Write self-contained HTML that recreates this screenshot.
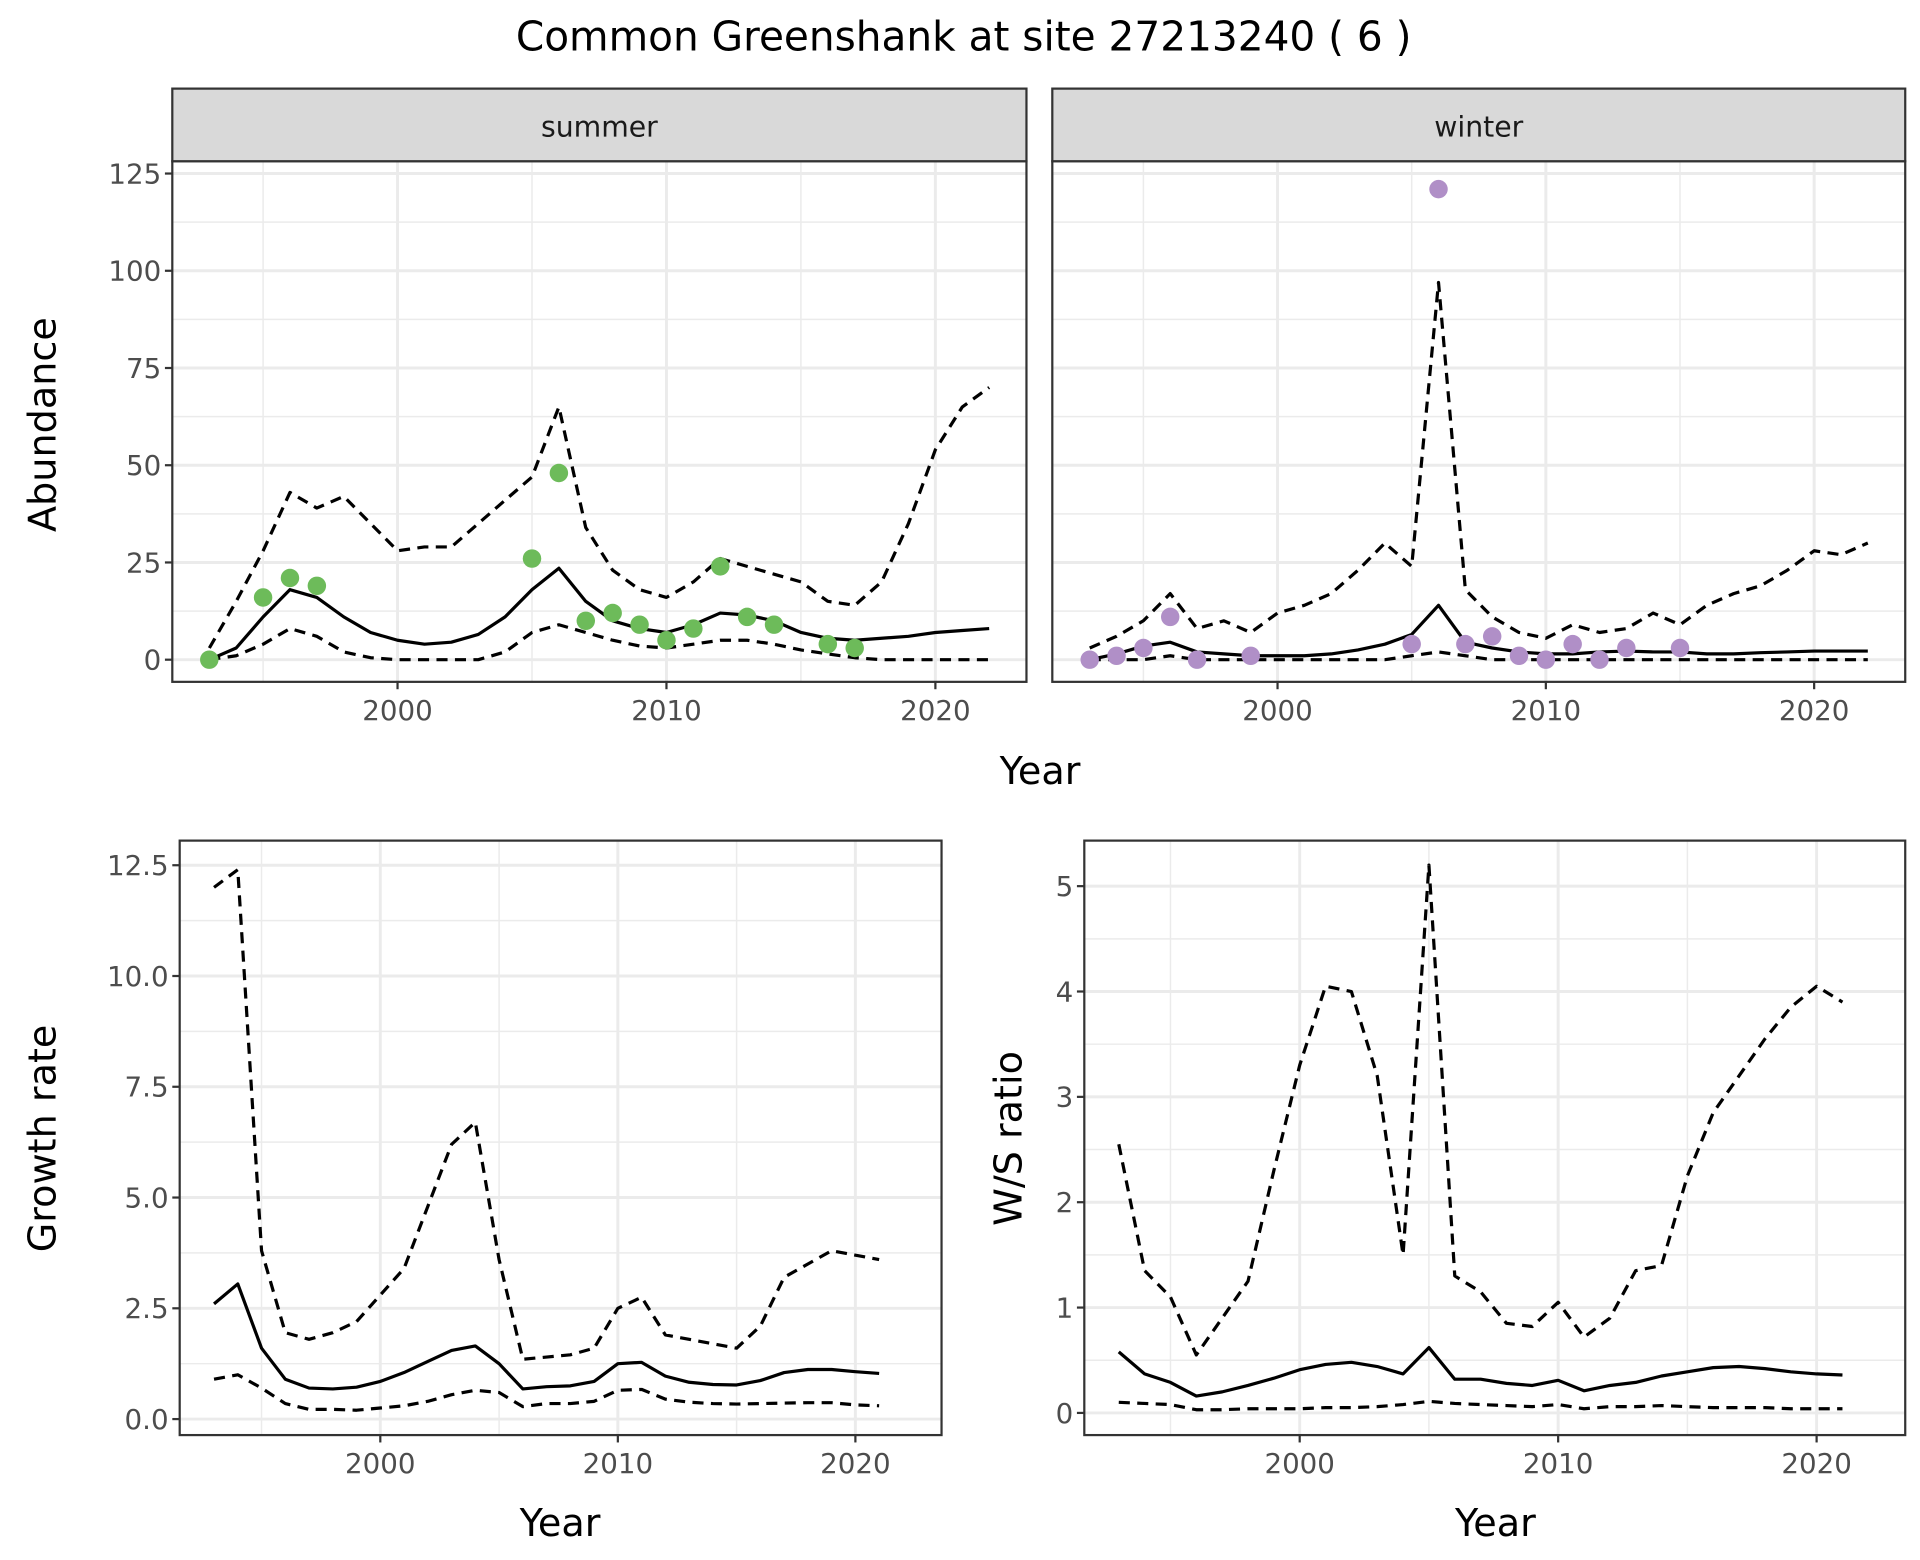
<!DOCTYPE html>
<html><head><meta charset="utf-8"><style>
html,body{margin:0;padding:0;background:#fff;}
svg{display:block;font-family:"DejaVu Sans","Liberation Sans",sans-serif;}
</style></head><body>
<svg id="chart" width="1920" height="1560" viewBox="0 0 1560 1267.5" xmlns="http://www.w3.org/2000/svg">
<text x="783" y="41" font-size="33" text-anchor="middle" fill="#000">Common Greenshank at site 27213240 ( 6 )</text>
</svg>
<script>
const yearsAb = [1993,1994,1995,1996,1997,1998,1999,2000,2001,2002,2003,2004,2005,2006,2007,2008,2009,2010,2011,2012,2013,2014,2015,2016,2017,2018,2019,2020,2021,2022];
const sumMean = [0,3,11,18,16,11,7,5,4,4.5,6.5,11,18,23.5,15,10,8,7,9,12,11.5,10,7,5.5,5,5.5,6,7,7.5,8];
const sumUpper = [3,15,28,43,39,42,35,28,29,29,35,41,47,65,34,23,18,16,20,26,24,22,20,15,14,20,35,54,65,70];
const sumLower = [0,1,4,8,6,2,0.5,0,0,0,0,2,7,9,7,5,3.5,3,4,5,5,4,2.5,1.5,0.5,0,0,0,0,0];
const sumPtYears = [1993,1995,1996,1997,2005,2006,2007,2008,2009,2010,2011,2012,2013,2014,2016,2017];
const sumPtVals = [0,16,21,19,26,48,10,12,9,5,8,24,11,9,4,3];
const winMean = [0,1.5,3.5,4.5,2,1.5,1,1,1,1.5,2.5,4,6.5,14,4.5,3,2,1.5,1.5,2,2.2,2,2,1.5,1.5,1.8,2,2.2,2.2,2.2];
const winUpper = [3,6,10,17,8,10,7,12,14,17,23,30,24,97,18,11,7,5.5,9,7,8,12,9,14,17,19,23,28,27,30];
const winLower = [0,0,0,1,0,0,0,0,0,0,0,0,1,2,1,0,0,0,0,0,0,0,0,0,0,0,0,0,0,0];
const winPtYears = [1993,1994,1995,1996,1997,1999,2005,2006,2007,2008,2009,2010,2011,2012,2013,2015];
const winPtVals = [0,1,3,11,0,1,4,121,4,6,1,0,4,0,3,3];
const yearsR = [1993,1994,1995,1996,1997,1998,1999,2000,2001,2002,2003,2004,2005,2006,2007,2008,2009,2010,2011,2012,2013,2014,2015,2016,2017,2018,2019,2020,2021];
const grMean = [2.6,3.05,1.6,0.9,0.7,0.68,0.72,0.85,1.05,1.3,1.55,1.65,1.25,0.68,0.73,0.75,0.85,1.25,1.28,0.97,0.83,0.78,0.77,0.87,1.05,1.12,1.12,1.07,1.03];
const grUpper = [12,12.4,3.8,1.95,1.8,1.95,2.2,2.8,3.4,4.8,6.2,6.7,3.6,1.35,1.4,1.45,1.6,2.5,2.75,1.9,1.8,1.7,1.6,2.1,3.2,3.5,3.8,3.7,3.6];
const grLower = [0.9,1.0,0.7,0.35,0.22,0.22,0.2,0.25,0.3,0.4,0.55,0.65,0.6,0.28,0.35,0.35,0.4,0.65,0.67,0.45,0.38,0.35,0.34,0.35,0.36,0.37,0.37,0.32,0.3];
const wsMean = [0.58,0.37,0.29,0.16,0.2,0.26,0.33,0.41,0.46,0.48,0.44,0.37,0.62,0.32,0.32,0.28,0.26,0.31,0.21,0.26,0.29,0.35,0.39,0.43,0.44,0.42,0.39,0.37,0.36];
const wsUpper = [2.55,1.35,1.1,0.55,0.9,1.25,2.3,3.3,4.05,4.0,3.2,1.5,5.2,1.3,1.15,0.85,0.82,1.05,0.72,0.9,1.35,1.4,2.25,2.85,3.2,3.55,3.85,4.05,3.9];
const wsLower = [0.1,0.09,0.08,0.03,0.03,0.04,0.04,0.04,0.05,0.05,0.06,0.08,0.11,0.09,0.08,0.07,0.06,0.08,0.04,0.06,0.06,0.07,0.06,0.05,0.05,0.05,0.04,0.04,0.04];
const xTicks = [2000,2010,2020];
const abTicks = [0,25,50,75,100,125];
const abTickLabels = ["0","25","50","75","100","125"];
const grTicks = [0,2.5,5,7.5,10,12.5];
const grTickLabels = ["0.0","2.5","5.0","7.5","10.0","12.5"];
const wsTicks = [0,1,2,3,4,5];
const wsTickLabels = ["0","1","2","3","4","5"];

const NS="http://www.w3.org/2000/svg";
const svg=document.getElementById('chart');
function mk(tag,attrs,parent){const e=document.createElementNS(NS,tag);for(const k in attrs)e.setAttribute(k,attrs[k]);(parent||svg).appendChild(e);return e;}

function panel(o){
  const g=mk('g',{});
  
  
  const sx=v=>o.x0+(v-2000)*(o.x1-o.x0)/20;
  const sy=v=>o.y0-v*o.ky;
  mk('rect',{x:o.l,y:o.t,width:o.r-o.l,height:o.b-o.t,fill:'#fff'},g);
  for(let i=0;i<o.yt.length-1;i++){const v=(o.yt[i]+o.yt[i+1])/2;mk('line',{x1:o.l,x2:o.r,y1:sy(v),y2:sy(v),stroke:'#ebebeb','stroke-width':1.2},g);}
  {const v=o.yt[o.yt.length-1]+(o.yt[1]-o.yt[0])/2; if(sy(v)>o.t) mk('line',{x1:o.l,x2:o.r,y1:sy(v),y2:sy(v),stroke:'#ebebeb','stroke-width':1.2},g);}
  [1995,2005,2015].forEach(v=>mk('line',{x1:sx(v),x2:sx(v),y1:o.t,y2:o.b,stroke:'#ebebeb','stroke-width':1.2},g));
  o.yt.forEach(v=>mk('line',{x1:o.l,x2:o.r,y1:sy(v),y2:sy(v),stroke:'#ebebeb','stroke-width':2.4},g));
  xTicks.forEach(v=>mk('line',{x1:sx(v),x2:sx(v),y1:o.t,y2:o.b,stroke:'#ebebeb','stroke-width':2.4},g));
  const path=(xs,ys,dash)=>{const p=mk('path',{d:xs.map((x,i)=>(i?'L':'M')+sx(x).toFixed(1)+','+sy(ys[i]).toFixed(1)).join(''),fill:'none',stroke:'#000','stroke-width':2.6,'stroke-linejoin':'round'},g);if(dash)p.setAttribute('stroke-dasharray','9,6');return p;};
  const pu=path(o.xs,o.upper,true);
  
  
  const pl=path(o.xs,o.lower,true);
  
  
  const pm=path(o.xs,o.mean,false);
  
  
  if(o.px){o.px.forEach((x,i)=>{const c=mk('circle',{cx:sx(x),cy:sy(o.pv[i]),r:7.5,fill:o.col},g);
    
    });}
  mk('rect',{x:o.l,y:o.t,width:o.r-o.l,height:o.b-o.t,fill:'none',stroke:'#333','stroke-width':1.8},g);
  if(o.showY){o.yt.forEach((v,i)=>{mk('line',{x1:o.l-6,x2:o.l,y1:sy(v),y2:sy(v),stroke:'#333','stroke-width':1.8},g);
    const t=mk('text',{x:o.l-9,y:sy(v)+8,'font-size':22.5,'text-anchor':'end',fill:'#4d4d4d'},g);t.textContent=o.ytl[i];
    
    });}
  xTicks.forEach(v=>{mk('line',{x1:sx(v),x2:sx(v),y1:o.b,y2:o.b+6,stroke:'#333','stroke-width':1.8},g);
    const t=mk('text',{x:sx(v),y:o.b+31,'font-size':22.5,'text-anchor':'middle',fill:'#4d4d4d'},g);t.textContent=String(v);
    
    });
  if(o.strip){const s=mk('rect',{x:o.l,y:o.t-59,width:o.r-o.l,height:59,fill:'#d9d9d9',stroke:'#333','stroke-width':1.8},g);
    
    
    const t=mk('text',{x:(o.l+o.r)/2,y:o.t-20,'font-size':23,'text-anchor':'middle',fill:'#1a1a1a'},g);t.textContent=o.strip;
    
    }
}
panel({name:'summer-panel',l:140,r:834,t:131,b:554,x0:323,x1:760,y0:536,ky:395/125,yt:abTicks,ytl:abTickLabels,xs:yearsAb,mean:sumMean,upper:sumUpper,lower:sumLower,px:sumPtYears,pv:sumPtVals,col:'#6dbb5a',showY:true,strip:'summer'});
panel({name:'winter-panel',l:855,r:1548,t:131,b:554,x0:1038,x1:1474,y0:536,ky:395/125,yt:abTicks,ytl:abTickLabels,xs:yearsAb,mean:winMean,upper:winUpper,lower:winLower,px:winPtYears,pv:winPtVals,col:'#b08fc7',showY:false,strip:'winter'});
panel({name:'growth-rate-panel',l:146,r:765,t:683,b:1166,x0:309,x1:695,y0:1153,ky:450/12.5,yt:grTicks,ytl:grTickLabels,xs:yearsR,mean:grMean,upper:grUpper,lower:grLower,showY:true});
panel({name:'ws-ratio-panel',l:881,r:1548,t:683,b:1166,x0:1056,x1:1476,y0:1148,ky:428/5,yt:wsTicks,ytl:wsTickLabels,xs:yearsR,mean:wsMean,upper:wsUpper,lower:wsLower,showY:true});

function label(txt,x,y,rot,name){const t=mk('text',{x:x,y:y,'font-size':31,'text-anchor':'middle',fill:'#000'});
  if(rot)t.setAttribute('transform','rotate(-90 '+x+' '+y+')');t.textContent=txt;
  
  }
label('Year',845,637,false,'x-axis-title-top');
label('Abundance',45,345,true,'y-axis-title-abundance');
label('Year',455,1248,false,'x-axis-title-growth');
label('Growth rate',45,925,true,'y-axis-title-growth');
label('Year',1215,1248,false,'x-axis-title-ratio');
label('W/S ratio',830,925,true,'y-axis-title-ratio');
</script>
</body></html>
